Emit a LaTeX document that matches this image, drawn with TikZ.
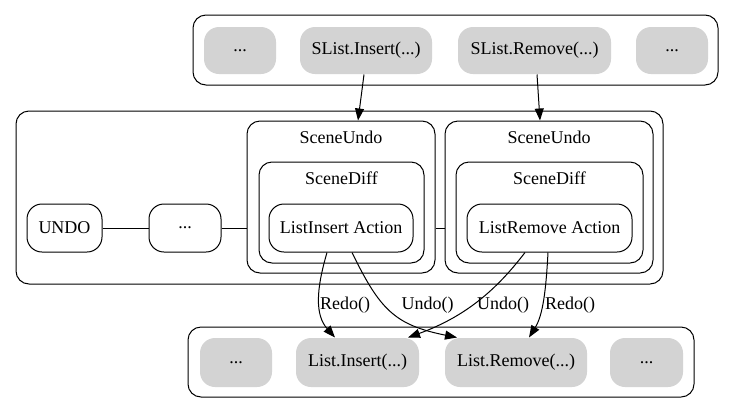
\documentclass[tikz,border=0pt]{standalone}
\usepackage{fontspec}
\setmainfont{Liberation Serif}
\usetikzlibrary{arrows.meta}
\definecolor{lgray}{RGB}{211,211,211}
\begin{document}
\begin{tikzpicture}[x=1pt,y=-1pt, font=\fontsize{18}{21}\selectfont, line width=1pt,
 cl/.style={draw, rounded corners=13pt, inner sep=0pt},
 bx/.style={draw, rounded corners=15pt, inner sep=0pt, minimum height=48pt},
 gr/.style={fill=lgray, rounded corners=15pt, inner sep=0pt, minimum height=47pt},
 arr/.style={-{Triangle[length=12pt,width=9pt]}},
 lab/.style={inner sep=1pt}]
\useasboundingbox (0,0) rectangle (735,413);
% clusters
\node[cl, minimum width=525pt, minimum height=70pt] (top) at (455.5,50) {};
\node[cl, minimum width=647pt, minimum height=173pt] (mid) at (339.5,197.5) {};
\node[cl, minimum width=188pt, minimum height=152pt] (su1) at (341,197) {};
\node[cl, minimum width=165pt, minimum height=101pt] (sd1) at (341.5,212.5) {};
\node[cl, minimum width=208pt, minimum height=152pt] (su2) at (549,197) {};
\node[cl, minimum width=187pt, minimum height=101pt] (sd2) at (549.5,212.5) {};
\node[cl, minimum width=506pt, minimum height=70pt] (bot) at (441,362) {};
% cluster labels
\node[lab] (su1l) at (341,137) {SceneUndo};
\node[lab] (sd1l) at (341.5,178) {SceneDiff};
\node[lab] (su2l) at (549,137) {SceneUndo};
\node[lab] (sd2l) at (549.5,178) {SceneDiff};
% nodes
\node[bx, minimum width=144pt] (li) at (341,228) {ListInsert Action};
\node[bx, minimum width=165pt] (lr) at (549.5,228) {ListRemove Action};
\node[bx, minimum width=75pt] (undo) at (64.5,228) {UNDO};
\node[bx, minimum width=72pt] (dots) at (185,228) {...};
% top gray
\node[gr, minimum width=72pt] (t1) at (240,50.5) {...};
\node[gr, minimum width=132pt] (t2) at (366,50.5) {SList.Insert(...)};
\node[gr, minimum width=153pt] (t3) at (534.5,50.5) {SList.Remove(...)};
\node[gr, minimum width=72pt] (t4) at (672,50.5) {...};
% bottom gray
\node[gr, minimum width=72pt, minimum height=49pt] (b1) at (236,362.5) {...};
\node[gr, minimum width=123pt, minimum height=49pt] (b2) at (357.5,362.5) {List.Insert(...)};
\node[gr, minimum width=142pt, minimum height=49pt] (b3) at (516,362.5) {List.Remove(...)};
\node[gr, minimum width=73pt, minimum height=49pt] (b4) at (646.5,362.5) {...};
% connectors
\draw[arr] ([xshift=-2pt]t2.south) -- ([xshift=17pt]su1.north);
\draw[arr] ([xshift=2.5pt]t3.south) -- ([xshift=-9pt]su2.north);
\draw (undo) -- (dots);
\draw (dots.east) -- (dots.east -| su1.west);
\draw (su1.east |- dots.east) -- (dots.east -| su2.west);
\draw[arr] ([xshift=-14pt]li.south) .. controls (316,290) and (315,315) .. ([xshift=-22.5pt]b2.north);
\draw[arr] ([xshift=11pt]li.south) .. controls (380,310) and (395,325) .. ([xshift=-59pt]b3.north);
\draw[arr] ([xshift=-24.5pt]lr.south) .. controls (500,285) and (470,315) .. ([xshift=50.5pt]b2.north);
\draw[arr] ([xshift=-1.5pt]lr.south) .. controls (546,290) and (543,315) .. ([xshift=13pt]b3.north);
% edge labels
\node[lab] (l1) at (345,305) {Redo()};
\node[lab] (l2) at (427.5,305) {Undo()};
\node[lab] (l3) at (503,305) {Undo()};
\node[lab] (l4) at (570,305) {Redo()};
\end{tikzpicture}
\end{document}
